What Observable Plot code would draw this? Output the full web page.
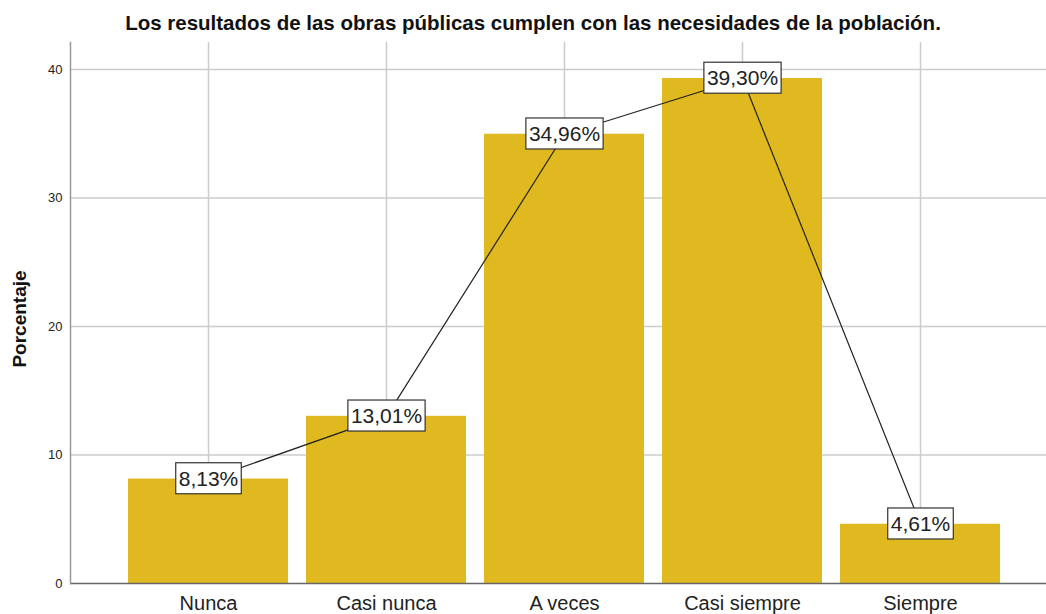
<!DOCTYPE html>
<html>
<head>
<meta charset="utf-8">
<script src="https://cdn.jsdelivr.net/npm/d3@7"></script>
<script src="https://cdn.jsdelivr.net/npm/@observablehq/plot@0.6"></script>
<style>
  html, body { margin: 0; padding: 0; background: #fff; }
  #title {
    width: 1046px; height: 42px; box-sizing: border-box;
    padding-top: 11px; padding-left: 20px;
    text-align: center;
    font-family: "Liberation Sans", Arial, sans-serif;
    font-weight: bold; font-size: 20.5px; line-height: 24px; color: #111;
    white-space: nowrap;
  }
  #chart svg { display: block; }
</style>
</head>
<body>
<div id="title">Los resultados de las obras públicas cumplen con las necesidades de la población.</div>
<div id="chart"></div>
<script>
const categories = ["Nunca", "Casi nunca", "A veces", "Casi siempre", "Siempre"];
const values = [8.13, 13.01, 34.96, 39.30, 4.61];
const valueLabels = ["8,13%", "13,01%", "34,96%", "39,30%", "4,61%"];
const yTicks = [0, 10, 20, 30, 40];
const yLabel = "Porcentaje";

const data = categories.map((c, i) => ({cat: c, value: values[i], label: valueLabels[i]}));

const font = '"Liberation Sans", Arial, sans-serif';

const chart = Plot.plot({
  width: 1046,
  height: 572,
  marginTop: 0,
  marginBottom: 31,
  marginLeft: 70,
  marginRight: 0,
  style: {fontFamily: font, background: "#fff", overflow: "visible"},
  x: {domain: categories, range: [119, 1009], paddingInner: 0.1, paddingOuter: 0.05},
  y: {domain: [0, 42.1]},
  marks: [
    Plot.gridY(yTicks.filter(d => d > 0), {stroke: "#cccccc", strokeOpacity: 1, strokeWidth: 1.5}),
    Plot.gridX(categories, {stroke: "#cccccc", strokeOpacity: 1, strokeWidth: 1.5}),
    Plot.barY(data, {x: "cat", y: "value", fill: "#dfb91f"}),
    Plot.ruleY([0], {stroke: "#666", strokeWidth: 1.5}),
    Plot.frame({anchor: "left", stroke: "#999", strokeWidth: 1.5}),
    Plot.axisY(yTicks, {tickSize: 0, tickPadding: 8, fontSize: 13, fill: "#222", label: null}),
    Plot.axisX(categories, {tickSize: 0, tickPadding: 12, fontSize: 20, fill: "#222", label: null}),
    Plot.text([yLabel], {frameAnchor: "left", textAnchor: "middle", text: d => d, rotate: -90, dx: -51, dy: 6, fontSize: 19, fontWeight: "bold", fill: "#111"}),
    Plot.line(data, {x: "cat", y: "value", stroke: "#222", strokeWidth: 1.2}),
    Plot.text(data, {x: "cat", y: "value", text: "label", fontSize: 21, fill: "#222", className: "vlabel"})
  ]
});

document.getElementById("chart").appendChild(chart);

// Add a white bordered box behind each value label, sized from the rendered text
chart.querySelectorAll(".vlabel text").forEach(t => {
  const b = t.getBBox();
  const padX = 3, padY = 4;
  const r = document.createElementNS("http://www.w3.org/2000/svg", "rect");
  r.setAttribute("x", b.x - padX);
  r.setAttribute("y", b.y - padY);
  r.setAttribute("width", b.width + 2 * padX);
  r.setAttribute("height", b.height + 2 * padY);
  r.setAttribute("fill", "#fff");
  r.setAttribute("stroke", "#333");
  r.setAttribute("stroke-width", "1.2");
  const tr = t.getAttribute("transform");
  if (tr) r.setAttribute("transform", tr);
  t.parentNode.insertBefore(r, t);
});
</script>
</body>
</html>
